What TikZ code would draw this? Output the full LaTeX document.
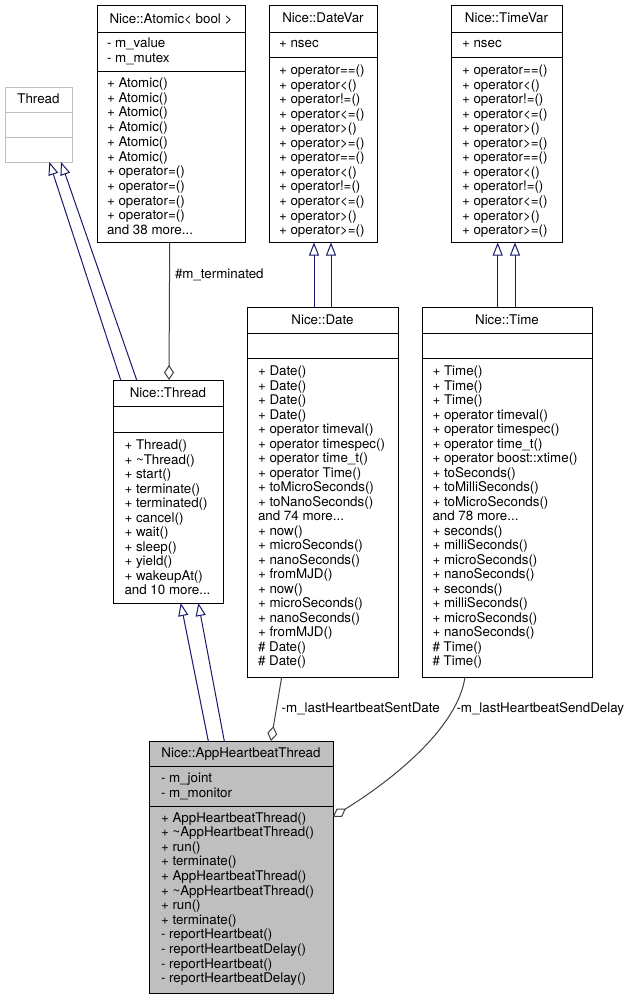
\documentclass[tikz,border=0pt]{standalone}
\usepackage{fontspec}
\setmainfont{TeX Gyre Heros}
\usetikzlibrary{arrows.meta}
\definecolor{navyline}{HTML}{191970}
\definecolor{aggline}{HTML}{404040}
\definecolor{boxgray}{HTML}{BFBFBF}
\tikzset{
  classbox/.style={draw=black, line width=1pt, inner sep=0pt, outer sep=0pt, anchor=north west},
  divline/.style={draw=black, line width=1pt},
  txt/.style={inner sep=0pt, outer sep=0pt, anchor=base west, font=\fontsize{13.35}{14.6}\selectfont},
  ttl/.style={txt, anchor=base},
  inh/.style={draw=navyline, line width=1pt, -{Triangle[length=13pt,width=10pt,fill=white]}},
  agg/.style={draw=aggline, line width=1pt, -{Diamond[length=15pt,width=10pt,fill=white]}},
}
\newcommand\tdots{...}
\newcommand\memlines[5]{%
  \foreach \t [count=\i from 0] in {#5} {\node[txt] (#1-\i) at (#2,{#3+\i*#4}) {\t};}}
\begin{document}
\begin{tikzpicture}[x=1pt,y=-1pt]
\fill[white] (0,0) rectangle (631,999);
\useasboundingbox (0,0) rectangle (631,999);

% ---- Thread (external) ----
\node[classbox, draw=boxgray, minimum width=67pt, minimum height=75pt] (thread0) at (5,87) {};
\draw[draw=boxgray, line width=1pt] (thread0.west |- 0,112) -- (thread0.east |- 0,112);
\draw[draw=boxgray, line width=1pt] (thread0.west |- 0,137) -- (thread0.east |- 0,137);
\node[ttl] (thread0-t) at (38.5,103.5) {Thread};

% ---- Nice::Atomic< bool > ----
\node[classbox, minimum width=148pt, minimum height=237pt] (atomic) at (97,5.5) {};
\draw[divline] (atomic.west |- 0,32) -- (atomic.east |- 0,32);
\draw[divline] (atomic.west |- 0,71) -- (atomic.east |- 0,71);
\node[ttl] (atomic-t) at (171,23) {Nice::Atomic< bool >};
\memlines{atomica}{107}{47.5}{14.5}{- m\_value, - m\_mutex}
\memlines{atomicm}{107}{87.5}{14.7}{+ Atomic(), + Atomic(), + Atomic(), + Atomic(), + Atomic(), + Atomic(), + operator=(), + operator=(), + operator=(), + operator=(), and 38 more\tdots}

% ---- Nice::DateVar ----
\node[classbox, minimum width=108pt, minimum height=237pt] (datevar) at (269,5.5) {};
\draw[divline] (datevar.west |- 0,32) -- (datevar.east |- 0,32);
\draw[divline] (datevar.west |- 0,57) -- (datevar.east |- 0,57);
\node[ttl] (datevar-t) at (323,22) {Nice::DateVar};
\node[txt] (datevar-a) at (279,47.5) {+ nsec};
\memlines{datevarm}{279}{74.5}{14.55}{+ operator==(), + operator<(), + operator!=(), + operator<=(), + operator>(), + operator>=(), + operator==(), + operator<(), + operator!=(), + operator<=(), + operator>(), + operator>=()}

% ---- Nice::TimeVar ----
\node[classbox, minimum width=111pt, minimum height=237pt] (timevar) at (451,5.5) {};
\draw[divline] (timevar.west |- 0,32) -- (timevar.east |- 0,32);
\draw[divline] (timevar.west |- 0,57) -- (timevar.east |- 0,57);
\node[ttl] (timevar-t) at (506.5,22) {Nice::TimeVar};
\node[txt] (timevar-a) at (462,47.5) {+ nsec};
\memlines{timevarm}{462}{74.5}{14.55}{+ operator==(), + operator<(), + operator!=(), + operator<=(), + operator>(), + operator>=(), + operator==(), + operator<(), + operator!=(), + operator<=(), + operator>(), + operator>=()}

% ---- Nice::Thread ----
\node[classbox, minimum width=110pt, minimum height=223pt] (nthread) at (113,380) {};
\draw[divline] (nthread.west |- 0,406) -- (nthread.east |- 0,406);
\draw[divline] (nthread.west |- 0,432) -- (nthread.east |- 0,432);
\node[ttl] (nthread-t) at (168,397) {Nice::Thread};
\memlines{nthreadm}{124.5}{449.5}{14.5}{+ Thread(), + \textasciitilde Thread(), + start(), + terminate(), + terminated(), + cancel(), + wait(), + sleep(), + yield(), + wakeupAt(), and 10 more\tdots}

% ---- Nice::Date ----
\node[classbox, minimum width=151pt, minimum height=370pt] (date) at (247,307) {};
\draw[divline] (date.west |- 0,333) -- (date.east |- 0,333);
\draw[divline] (date.west |- 0,358) -- (date.east |- 0,358);
\node[ttl] (date-t) at (322.5,324) {Nice::Date};
\memlines{datem}{258}{375.5}{14.5}{+ Date(), + Date(), + Date(), + Date(), + operator timeval(), + operator timespec(), + operator time\_t(), + operator Time(), + toMicroSeconds(), + toNanoSeconds(), and 74 more\tdots, + now(), + microSeconds(), + nanoSeconds(), + fromMJD(), + now(), + microSeconds(), + nanoSeconds(), + fromMJD(), \# Date(), \# Date()}

% ---- Nice::Time ----
\node[classbox, minimum width=170pt, minimum height=370pt] (time) at (422,307) {};
\draw[divline] (time.west |- 0,333) -- (time.east |- 0,333);
\draw[divline] (time.west |- 0,358) -- (time.east |- 0,358);
\node[ttl] (time-t) at (507,324) {Nice::Time};
\memlines{timem}{432.5}{375.5}{14.5}{+ Time(), + Time(), + Time(), + operator timeval(), + operator timespec(), + operator time\_t(), + operator boost::xtime(), + toSeconds(), + toMilliSeconds(), + toMicroSeconds(), and 78 more\tdots, + seconds(), + milliSeconds(), + microSeconds(), + nanoSeconds(), + seconds(), + milliSeconds(), + microSeconds(), + nanoSeconds(), \# Time(), \# Time()}

% ---- Nice::AppHeartbeatThread ----
\node[classbox, fill=boxgray, minimum width=184pt, minimum height=252pt] (app) at (149,741) {};
\draw[divline] (app.west |- 0,766) -- (app.east |- 0,766);
\draw[divline] (app.west |- 0,806) -- (app.east |- 0,806);
\node[ttl] (app-t) at (241,757) {Nice::AppHeartbeatThread};
\memlines{appa}{161}{782}{15}{- m\_joint, - m\_monitor}
\memlines{appm}{161}{822}{14.6}{+ AppHeartbeatThread(), + \textasciitilde AppHeartbeatThread(), + run(), + terminate(), + AppHeartbeatThread(), + \textasciitilde AppHeartbeatThread(), + run(), + terminate(), - reportHeartbeat(), - reportHeartbeatDelay(), - reportHeartbeat(), - reportHeartbeatDelay()}

% ---- inheritance ----
\draw[inh] ([xshift=7.7pt]nthread.north west) -- ([xshift=44.3pt]thread0.south west);
\draw[inh] ([xshift=23.7pt]nthread.north west) -- ([xshift=56pt]thread0.south west);
\draw[inh] ([xshift=67pt]date.north west) -- ([xshift=45pt]datevar.south west);
\draw[inh] ([xshift=84pt]date.north west) -- ([xshift=62pt]datevar.south west);
\draw[inh] ([xshift=75.7pt]time.north west) -- ([xshift=46.7pt]timevar.south west);
\draw[inh] ([xshift=93pt]time.north west) -- ([xshift=64pt]timevar.south west);
\draw[inh] ([xshift=59.3pt]app.north west) -- ([xshift=67.7pt]nthread.south west);
\draw[inh] ([xshift=75.3pt]app.north west) -- ([xshift=85.3pt]nthread.south west);

% ---- aggregation ----
\draw[agg] ([xshift=72.7pt]atomic.south west) -- ([xshift=56pt]nthread.north west);
\node[txt] (lblterm) at (175,278.5) {\#m\_terminated};
\draw[agg] ([xshift=34.7pt]date.south west) -- ([xshift=122pt]app.north west);
\node[txt] (lbldate) at (281.7,712) {-m\_lastHeartbeatSentDate};
\draw[agg] ([xshift=43pt]time.south west) .. controls (458,725) and (400,775) .. ([yshift=-75.7pt]app.north east);
\node[txt] (lbldelay) at (456.5,712) {-m\_lastHeartbeatSendDelay};
\end{tikzpicture}
\end{document}
